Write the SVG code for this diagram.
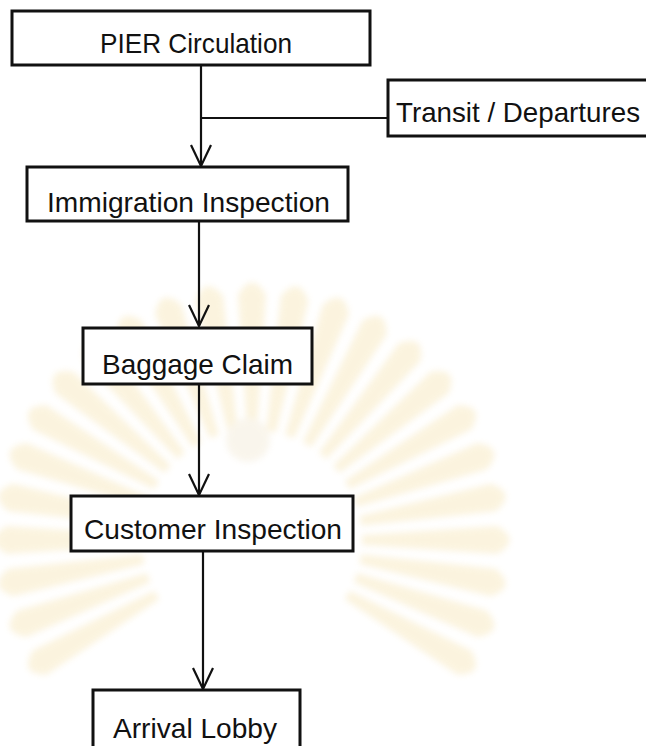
<svg xmlns="http://www.w3.org/2000/svg" xmlns:xlink="http://www.w3.org/1999/xlink" width="646" height="746" viewBox="0 0 646 746">
<style>
.box{fill:#fff;stroke:#111;stroke-width:3}
.lbl{font-family:"Liberation Sans",Arial,sans-serif;font-size:28px;fill:#111}
.conn{stroke:#111;stroke-width:2.2;fill:none}
.ray{fill:#f7e6b8}
</style>
<defs>
<marker id="vee" markerUnits="userSpaceOnUse" markerWidth="26" markerHeight="26" viewBox="-24 -13 26 26" refX="0" refY="0" orient="auto">
<path d="M-21,-10 L0,0 L-21,10" fill="none" stroke="#111" stroke-width="2.2"/>
</marker>
<path id="ray" d="M-5,-110 L-14,-245 Q0,-270 14,-245 L5,-110 Z"/>
<filter id="soft" x="-20%" y="-20%" width="140%" height="140%"><feGaussianBlur stdDeviation="3"/></filter>
</defs>
<rect width="646" height="746" fill="#fff"/>
<g id="watermark" class="ray" opacity="0.45" filter="url(#soft)">
<use xlink:href="#ray" transform="translate(252,540) rotate(-120)"/>
<use xlink:href="#ray" transform="translate(252,540) rotate(-110)"/>
<use xlink:href="#ray" transform="translate(252,540) rotate(-100)"/>
<use xlink:href="#ray" transform="translate(252,540) rotate(-90)"/>
<use xlink:href="#ray" transform="translate(252,540) rotate(-80)"/>
<use xlink:href="#ray" transform="translate(252,540) rotate(-70)"/>
<use xlink:href="#ray" transform="translate(252,540) rotate(-60)"/>
<use xlink:href="#ray" transform="translate(252,540) rotate(-50)"/>
<use xlink:href="#ray" transform="translate(252,540) rotate(-40)"/>
<use xlink:href="#ray" transform="translate(252,540) rotate(-30)"/>
<use xlink:href="#ray" transform="translate(252,540) rotate(-20)"/>
<use xlink:href="#ray" transform="translate(252,540) rotate(-10)"/>
<use xlink:href="#ray" transform="translate(252,540) rotate(0)"/>
<use xlink:href="#ray" transform="translate(252,540) rotate(10)"/>
<use xlink:href="#ray" transform="translate(252,540) rotate(20)"/>
<use xlink:href="#ray" transform="translate(252,540) rotate(30)"/>
<use xlink:href="#ray" transform="translate(252,540) rotate(40)"/>
<use xlink:href="#ray" transform="translate(252,540) rotate(50)"/>
<use xlink:href="#ray" transform="translate(252,540) rotate(60)"/>
<use xlink:href="#ray" transform="translate(252,540) rotate(70)"/>
<use xlink:href="#ray" transform="translate(252,540) rotate(80)"/>
<use xlink:href="#ray" transform="translate(252,540) rotate(90)"/>
<use xlink:href="#ray" transform="translate(252,540) rotate(100)"/>
<use xlink:href="#ray" transform="translate(252,540) rotate(110)"/>
<use xlink:href="#ray" transform="translate(252,540) rotate(120)"/>
<circle cx="248" cy="440" r="22" fill="#f3ead6"/>
</g>
<g id="connectors">
<path class="conn" d="M201,65 L201,166" marker-end="url(#vee)"/>
<path class="conn" d="M201,118 L388,118"/>
<path class="conn" d="M199,221 L199,326" marker-end="url(#vee)"/>
<path class="conn" d="M199,384 L199,495" marker-end="url(#vee)"/>
<path class="conn" d="M203,551 L203,689" marker-end="url(#vee)"/>
</g>
<g id="pier">
<rect class="box" x="12" y="11" width="358" height="54"/>
<text class="lbl" x="100" y="53" textLength="192" lengthAdjust="spacingAndGlyphs">PIER Circulation</text>
</g>
<g id="transit">
<rect class="box" x="388" y="80" width="270" height="56"/>
<text class="lbl" x="396" y="122" textLength="244" lengthAdjust="spacingAndGlyphs">Transit / Departures</text>
</g>
<g id="immigration">
<rect class="box" x="27" y="167" width="321" height="54"/>
<text class="lbl" x="47" y="212" textLength="283" lengthAdjust="spacingAndGlyphs">Immigration Inspection</text>
</g>
<g id="baggage">
<rect class="box" x="83" y="328" width="229" height="56"/>
<text class="lbl" x="102" y="374" textLength="191" lengthAdjust="spacingAndGlyphs">Baggage Claim</text>
</g>
<g id="customer">
<rect class="box" x="71" y="496" width="282" height="55"/>
<text class="lbl" x="84" y="539" textLength="258" lengthAdjust="spacingAndGlyphs">Customer Inspection</text>
</g>
<g id="arrival">
<rect class="box" x="93" y="690" width="207" height="70"/>
<text class="lbl" x="113" y="738" textLength="164" lengthAdjust="spacingAndGlyphs">Arrival Lobby</text>
</g>
</svg>
